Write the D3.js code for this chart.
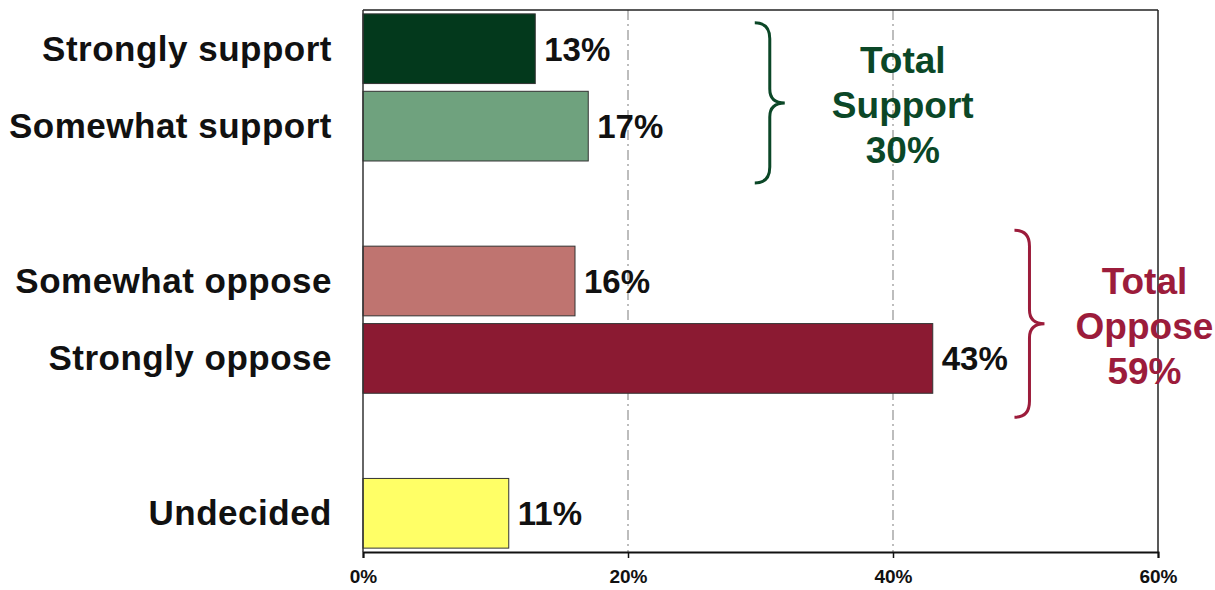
<!DOCTYPE html>
<html>
<head>
<meta charset="utf-8">
<script src="https://cdn.jsdelivr.net/npm/d3@7"></script>
<style>
  body { margin: 0; background: #fff; }
  text { font-family: "Liberation Sans", Arial, sans-serif; font-weight: bold; }
</style>
</head>
<body>
<div id="chart"></div>
<script>
// rows of the chart, blanks are spacer rows
const categories = ["Strongly support", "Somewhat support", "", "Somewhat oppose", "Strongly oppose", " ", "Undecided"];
const values = [13, 17, null, 16, 43, null, 11];
const barColors = ["#03391c", "#6fa27e", null, "#bf7470", "#8b1a32", null, "#ffff66"];
const xTicks = [0, 20, 40, 60];
const gridTicks = [20, 40];

// totals shown with braces
const groups = [
  { lines: ["Total", "Support", "30%"], rows: ["Strongly support", "Somewhat support"], braceAt: 30.7, color: "#0b4727" },
  { lines: ["Total", "Oppose", "59%"], rows: ["Somewhat oppose", "Strongly oppose"], braceAt: 50.3, color: "#9c1c3b" }
];

const margin = {top: 10, right: 57, bottom: 38, left: 363},
  width = 1215 - margin.left - margin.right,
  height = 590 - margin.top - margin.bottom;

const svg = d3.select("#chart")
  .append("svg")
  .attr("width", 1215)
  .attr("height", 590)
  .append("g")
  .attr("transform", "translate(" + margin.left + "," + margin.top + ")");

const x = d3.scaleLinear().domain([0, 60]).range([0, width]);
const y = d3.scaleBand().domain(categories).range([0, height]).paddingInner(0.1).paddingOuter(0.05);

// dash-dot gridlines
svg.selectAll(".grid")
  .data(gridTicks)
  .enter()
  .append("line")
  .attr("x1", d => x(d)).attr("x2", d => x(d))
  .attr("y1", 0).attr("y2", height)
  .attr("stroke", "#9a9a9a")
  .attr("stroke-width", 1.3)
  .attr("stroke-dasharray", "10,4,2,4");

// frame top and right
svg.append("line").attr("x1", 0).attr("x2", width).attr("y1", 0).attr("y2", 0)
  .attr("stroke", "#222").attr("stroke-width", 1.5);
svg.append("line").attr("x1", width).attr("x2", width).attr("y1", 0).attr("y2", height)
  .attr("stroke", "#222").attr("stroke-width", 1.5);

const rows = categories.map((c, i) => ({cat: c, v: values[i], color: barColors[i]})).filter(d => d.v !== null);

// bars
svg.append("g")
  .selectAll("rect")
  .data(rows)
  .enter()
  .append("rect")
  .attr("x", x(0))
  .attr("y", d => y(d.cat))
  .attr("width", d => x(d.v) - x(0))
  .attr("height", y.bandwidth())
  .attr("fill", d => d.color)
  .attr("stroke", "#333")
  .attr("stroke-width", 1);

// value labels
svg.append("g")
  .selectAll("text")
  .data(rows)
  .enter()
  .append("text")
  .attr("x", d => x(d.v) + 9)
  .attr("y", d => y(d.cat) + y.bandwidth() / 2 + 12)
  .attr("font-size", 33)
  .attr("fill", "#111")
  .text(d => d.v + "%");

// category labels
svg.append("g")
  .selectAll("text")
  .data(rows)
  .enter()
  .append("text")
  .attr("x", -31)
  .attr("y", d => y(d.cat) + y.bandwidth() / 2 + 12)
  .attr("text-anchor", "end")
  .attr("font-size", 35)
  .attr("letter-spacing", 0.5)
  .attr("fill", "#111")
  .text(d => d.cat);

// x axis
const xAxis = svg.append("g")
  .attr("transform", "translate(0," + height + ")")
  .call(d3.axisBottom(x).tickValues(xTicks).tickFormat(d => d + "%").tickSize(6).tickPadding(12));
xAxis.select(".domain").attr("stroke", "#111").attr("stroke-width", 2);
xAxis.selectAll(".tick line").attr("stroke", "#111").attr("stroke-width", 1.5);
xAxis.selectAll("text").style("font-size", "19px").attr("fill", "#111");

// y axis line
svg.append("line").attr("x1", 0).attr("x2", 0).attr("y1", 0).attr("y2", height)
  .attr("stroke", "#333").attr("stroke-width", 1.5);

// braces with totals
function bracePath(bx, top, bottom, mid, tip) {
  return "M" + (bx - 15) + "," + top +
    " Q" + bx + "," + top + " " + bx + "," + (top + 16) +
    " L" + bx + "," + (mid - 14) +
    " Q" + bx + "," + mid + " " + tip + "," + mid +
    " Q" + bx + "," + mid + " " + bx + "," + (mid + 14) +
    " L" + bx + "," + (bottom - 16) +
    " Q" + bx + "," + bottom + " " + (bx - 15) + "," + bottom;
}

groups.forEach((g, i) => {
  const top = y(g.rows[0]) + (i === 0 ? 9 : -16);
  const bottom = y(g.rows[1]) + y.bandwidth() + (i === 0 ? 22 : 24);
  const mid = (top + bottom) / 2;
  const bx = x(g.braceAt);
  svg.append("path")
    .attr("d", bracePath(bx, top, bottom, mid, bx + 15))
    .attr("fill", "none")
    .attr("stroke", g.color)
    .attr("stroke-width", 3);
  const cx = bx + (i === 0 ? 133 : 115);
  svg.append("text")
    .attr("x", cx)
    .attr("y", mid - 30)
    .attr("text-anchor", "middle")
    .attr("font-size", 37)
    .attr("fill", g.color)
    .selectAll("tspan")
    .data(g.lines)
    .enter()
    .append("tspan")
    .attr("x", cx)
    .attr("dy", (d, j) => j === 0 ? 0 : 45)
    .text(d => d);
});
</script>
</body>
</html>
